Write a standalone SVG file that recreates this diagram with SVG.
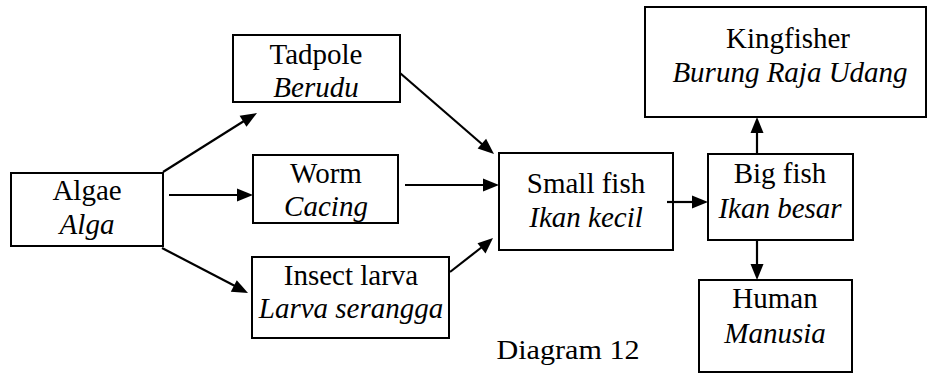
<svg xmlns="http://www.w3.org/2000/svg" width="928" height="374" viewBox="0 0 928 374">
<style>
rect{fill:#fff;stroke:#000;stroke-width:2}
text{font-family:'Liberation Serif','DejaVu Serif',serif;font-size:29px;fill:#000;text-anchor:middle}
.i{font-style:italic}
.c line{stroke:#000;stroke-width:2.2}
.h{fill:#000}
</style>
<rect width="928" height="374" style="stroke:none"/>
<g id="algae"><rect x="11" y="173" width="152" height="73"/><text x="87" y="200">Algae</text><text class="i" x="87" y="234">Alga</text></g>
<g id="tadpole"><rect x="233" y="35" width="167" height="67"/><text x="316" y="64">Tadpole</text><text class="i" x="316" y="97">Berudu</text></g>
<g id="worm"><rect x="253" y="155" width="145" height="68"/><text x="326" y="183">Worm</text><text class="i" x="326" y="216">Cacing</text></g>
<g id="insect"><rect x="252" y="257" width="197" height="81"/><text x="351" y="285">Insect larva</text><text class="i" x="351" y="318">Larva serangga</text></g>
<g id="smallfish"><rect x="499" y="153" width="174" height="97"/><text x="586" y="193">Small fish</text><text class="i" x="586" y="227">Ikan kecil</text></g>
<g id="bigfish"><rect x="708" y="154" width="145" height="86"/><text x="780" y="183">Big fish</text><text class="i" x="780" y="218">Ikan besar</text></g>
<g id="kingfisher"><rect x="645" y="7" width="281" height="110"/><text x="788" y="48">Kingfisher</text><text class="i" x="790" y="82">Burung Raja Udang</text></g>
<g id="human"><rect x="699" y="280" width="153" height="92"/><text x="775" y="308">Human</text><text class="i" x="775" y="343">Manusia</text></g>
<text x="568" y="359" style="font-size:27px" textLength="143" lengthAdjust="spacingAndGlyphs">Diagram 12</text>
<g class="c">
<line x1="163" y1="172" x2="244" y2="121"/>
<polygon class="h" points="257,113 246.5,126.7 239.6,115.7"/>
<line x1="169" y1="195" x2="240" y2="195"/>
<polygon class="h" points="253,195 237,201.5 237,188.5"/>
<line x1="162" y1="248" x2="235" y2="286"/>
<polygon class="h" points="248,293 230.8,291.8 236.8,280.3"/>
<line x1="400" y1="73" x2="483" y2="145"/>
<polygon class="h" points="494,154 477.6,148.5 486.1,138.7"/>
<line x1="405" y1="185" x2="486" y2="185"/>
<polygon class="h" points="499,185 483,191.5 483,178.5"/>
<line x1="450" y1="272" x2="482" y2="247"/>
<polygon class="h" points="493,238 485.5,253.5 477.5,243.2"/>
<line x1="667" y1="202" x2="696" y2="202"/>
<polygon class="h" points="708,202 692,208.5 692,195.5"/>
<line x1="757" y1="154" x2="757" y2="130"/>
<polygon class="h" points="757,117 763.5,133 750.5,133"/>
<line x1="757" y1="240" x2="757" y2="267"/>
<polygon class="h" points="757,280 750.5,264 763.5,264"/>
</g>
</svg>
